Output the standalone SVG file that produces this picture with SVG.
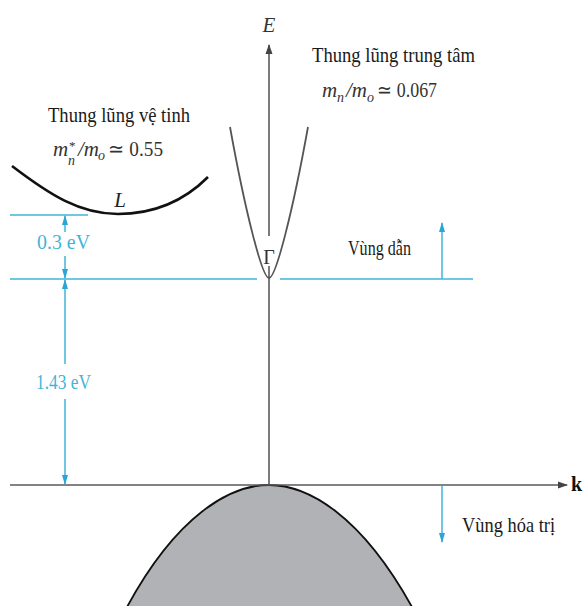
<svg xmlns="http://www.w3.org/2000/svg" width="583" height="606" viewBox="0 0 583 606">
<defs>
<marker id="ah" markerWidth="10" markerHeight="10" refX="9" refY="5" orient="auto" markerUnits="userSpaceOnUse"><path d="M0,1.5 L10,5 L0,8.5 Z" fill="#444"/></marker>
<marker id="ca" markerWidth="10" markerHeight="10" refX="9" refY="5" orient="auto" markerUnits="userSpaceOnUse"><path d="M0,2 L10,5 L0,8 Z" fill="#2aa6d6"/></marker>
</defs>
<style>
.ax{stroke:#5a5a5a;stroke-width:1.6;fill:none}
.cy{stroke:#3fb5d8;stroke-width:1.5;fill:none}
</style>
<rect width="583" height="606" fill="#fff"/>
<g id="valence-band"><path d="M127,607 C177,515 230,485 269,485 C308,485 361,515 412,607 Z" fill="#b1b2b6" stroke="#111" stroke-width="1.8"/></g>
<g id="connectors">
<line class="ax" x1="10" y1="485" x2="567" y2="485" marker-end="url(#ah)"/>
<line class="ax" x1="269" y1="485" x2="269" y2="266"/>
<line class="ax" x1="269" y1="236" x2="269" y2="45" marker-end="url(#ah)"/>
<line class="cy" x1="10" y1="215" x2="88" y2="215"/>
<line class="cy" x1="10" y1="279" x2="257" y2="279"/>
<line class="cy" x1="280" y1="279" x2="473" y2="279"/>
<line class="cy" x1="65" y1="232" x2="65" y2="216" marker-end="url(#ca)"/>
<line class="cy" x1="65" y1="256" x2="65" y2="278" marker-end="url(#ca)"/>
<line class="cy" x1="65" y1="364" x2="65" y2="280" marker-end="url(#ca)"/>
<line class="cy" x1="65" y1="399" x2="65" y2="484" marker-end="url(#ca)"/>
<line class="cy" x1="442" y1="279" x2="442" y2="223" marker-end="url(#ca)"/>
<line class="cy" x1="442" y1="486" x2="442" y2="542" marker-end="url(#ca)"/>
</g>
<g id="gamma-valley"><path d="M230,127 C245,210 262,278 269,278 C276,278 293,210 308,127" fill="none" stroke="#555" stroke-width="1.8"/></g>
<g id="l-valley"><path d="M12,166 C50,195 80,214 118,214 C155,214 185,200 208,177" fill="none" stroke="#111" stroke-width="2.6"/></g>
<g id="labels">
<text x="269" y="32" style="font-family:'Liberation Serif',serif;font-size:21px;font-style:italic;fill:#333" text-anchor="middle">E</text>
<text x="571" y="491" style="font-family:'Liberation Serif',serif;font-size:20px;font-weight:bold;fill:#111">k</text>
<text x="269" y="264" style="font-family:'Liberation Serif',serif;font-size:20px;fill:#333" text-anchor="middle">Γ</text>
<text x="120" y="207" style="font-family:'Liberation Serif',serif;font-size:21px;font-style:italic;fill:#222" text-anchor="middle">L</text>
<text x="48" y="122" style="font-family:'Liberation Serif',serif;font-size:21px;fill:#1a1a1a" textLength="142" lengthAdjust="spacingAndGlyphs">Thung lũng vệ tinh</text>
<text x="312" y="62" style="font-family:'Liberation Serif',serif;font-size:21px;fill:#1a1a1a" textLength="163" lengthAdjust="spacingAndGlyphs">Thung lũng trung tâm</text>
<text x="348" y="255" style="font-family:'Liberation Serif',serif;font-size:21px;fill:#1a1a1a" textLength="63" lengthAdjust="spacingAndGlyphs">Vùng dẫn</text>
<text x="462" y="532" style="font-family:'Liberation Serif',serif;font-size:21px;fill:#1a1a1a" textLength="93" lengthAdjust="spacingAndGlyphs">Vùng hóa trị</text>
<text x="37" y="249" style="font-family:'Liberation Serif',serif;font-size:20px;fill:#3fb5d8" textLength="53" lengthAdjust="spacingAndGlyphs">0.3 eV</text>
<text x="36" y="389" style="font-family:'Liberation Serif',serif;font-size:20px;fill:#3fb5d8" textLength="55" lengthAdjust="spacingAndGlyphs">1.43 eV</text>
</g>
<g id="mass-labels">
<text x="53" y="156" style="font-family:'Liberation Serif',serif;font-size:21px;font-style:italic;fill:#333">m</text>
<text x="69" y="150" style="font-family:'Liberation Serif',serif;font-size:13px;fill:#333">*</text>
<text x="68" y="165" style="font-family:'Liberation Serif',serif;font-size:14px;font-style:italic;fill:#333">n</text>
<text x="78" y="156" style="font-family:'Liberation Serif',serif;font-size:21px;font-style:italic;fill:#333">/m</text>
<text x="98" y="160" style="font-family:'Liberation Serif',serif;font-size:14px;font-style:italic;fill:#333">o</text>
<text x="108" y="156" style="font-family:'Liberation Serif',serif;font-size:21px;fill:#333" textLength="55" lengthAdjust="spacingAndGlyphs">≃ 0.55</text>
<text x="322" y="97" style="font-family:'Liberation Serif',serif;font-size:21px;font-style:italic;fill:#333">m</text>
<text x="337" y="102" style="font-family:'Liberation Serif',serif;font-size:14px;font-style:italic;fill:#333">n</text>
<text x="346" y="97" style="font-family:'Liberation Serif',serif;font-size:21px;font-style:italic;fill:#333">/m</text>
<text x="367" y="102" style="font-family:'Liberation Serif',serif;font-size:14px;font-style:italic;fill:#333">o</text>
<text x="377" y="97" style="font-family:'Liberation Serif',serif;font-size:21px;fill:#333" textLength="60" lengthAdjust="spacingAndGlyphs">≃ 0.067</text>
</g>
</svg>
